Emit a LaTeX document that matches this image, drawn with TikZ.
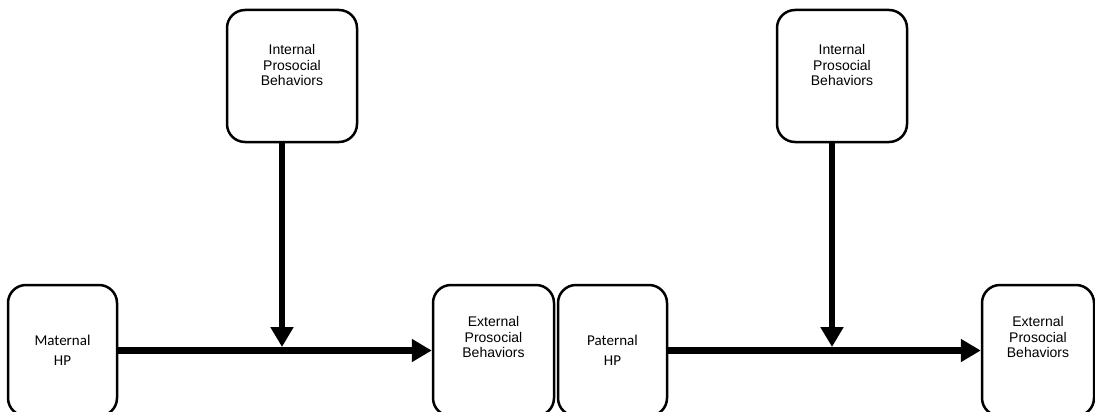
\documentclass[tikz,border=0pt]{standalone}
\usepackage{fontspec}
\setmainfont{Liberation Sans}
\newfontfamily\calibri{Carlito}
\usetikzlibrary{arrows.meta, positioning}
\tikzstyle{rect} = [rectangle, draw, line width=2.5pt, rounded corners=18pt, inner sep=0pt]
\tikzstyle{arial} = [align=center, font=\fontsize{14}{15.5}\selectfont]
\tikzstyle{calib} = [align=center, font=\calibri\fontsize{15}{20}\selectfont]
\tikzstyle{line} = [draw, -{Triangle[length=20pt,width=22pt]}, line width=6.5pt]

\begin{document}
\begin{tikzpicture}[x=1pt, y=-1pt]
  \useasboundingbox (0,0) rectangle (1095,412);
  % left half
  \node (internalA) [rect, minimum width=130pt, minimum height=132pt, label={[arial, yshift=11pt]center:{Internal\\Prosocial\\Behaviors}}] at (292,76) {};
  \node (maternal) [rect, minimum width=109pt, minimum height=131pt, label={[calib]center:{Maternal\\HP}}] at (62.5,350.5) {};
  \node (extA) [rect, minimum width=121pt, minimum height=131pt, label={[arial, yshift=13.5pt]center:{External\\Prosocial\\Behaviors}}] at (493.5,350.5) {};
  % right half
  \node (internalB) [rect, minimum width=130pt, minimum height=132pt, label={[arial, yshift=11pt]center:{Internal\\Prosocial\\Behaviors}}] at (842,76) {};
  \node (paternal) [rect, minimum width=109pt, minimum height=131pt, label={[calib]center:{Paternal\\HP}}] at (612.5,350.5) {};
  \node (extB) [rect, minimum width=112pt, minimum height=131pt, label={[arial, yshift=13.5pt]center:{External\\Prosocial\\Behaviors}}] at (1038,350.5) {};
  \coordinate (jA) at (282,347);
  \coordinate (jB) at (832,347);
  \draw [line] (maternal) -- (extA);
  \draw [line] (internalA.south -| jA) -- (jA);
  \draw [line] (paternal) -- (extB);
  \draw [line] (internalB.south -| jB) -- (jB);
\end{tikzpicture}
\end{document}
